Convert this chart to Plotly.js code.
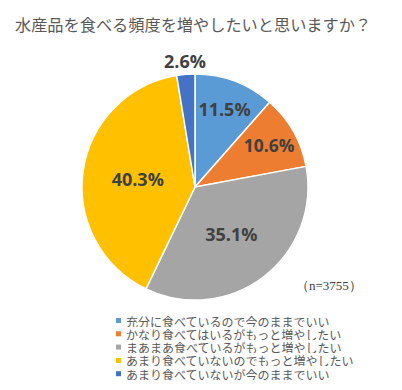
<!DOCTYPE html>
<html><head><meta charset="utf-8">
<script src="https://cdn.plot.ly/plotly-3.0.1.min.js"></script>
<style>html,body{margin:0;padding:0;background:#fff;}#c{width:402px;height:390px;}</style>
</head><body><div id="c"></div>
<script>
const labels = ["充分に食べているので今のままでいい","かなり食べてはいるがもっと増やしたい","まあまあ食べているがもっと増やしたい","あまり食べていないのでもっと増やしたい","あまり食べていないが今のままでいい"];
const values = [11.5, 10.6, 35.1, 40.3, 2.6];
const colors = ["#5B9BD5","#ED7D31","#A5A5A5","#FFC000","#4472C4"];
const titleText = "水産品を食べる頻度を増やしたいと思いますか？";
const noteText = "（n=3755）";

const W=402,H=390;
const cx=195, cy=187, r=113;
const jp = "'Noto Sans CJK JP', 'Noto Sans', sans-serif";
const numFont = {family:"'Open Sans', 'Noto Sans', sans-serif", size:18, color:'#404040', weight:'bold'};
const isSmall = values.map(v=> v<5);

const trace = {
  type:'pie', values:values, labels:labels, sort:false, direction:'clockwise', rotation:0,
  marker:{colors:colors, line:{color:'#ffffff', width:1.5}},
  texttemplate: values.map(v=>v.toFixed(1)+'%'),
  textinfo:'text',
  textposition: isSmall.map(s=> s ? 'none':'inside'),
  insidetextorientation:'horizontal',
  textfont:numFont,
  showlegend:false, hoverinfo:'none',
  domain:{x:[(cx-r)/W,(cx+r)/W], y:[(H-cy-r)/H,(H-cy+r)/H]}
};

const annotations = [];
// outside label(s) for small slices, placed at the slice's mid angle
const total = values.reduce((a,b)=>a+b,0);
let cum = 0;
values.forEach((v,i)=>{
  const mid = (cum + v/2)/total; cum += v;
  if(!isSmall[i]) return;
  const th = 2*Math.PI*mid, R = r + 13;
  annotations.push({xref:'paper',yref:'paper', x:(cx+Math.sin(th)*R)/W, y:1-(cy-Math.cos(th)*R)/H,
    xanchor:'center', yanchor:'middle', showarrow:false, text:v.toFixed(1)+'%', font:numFont});
});
const lgY = i => 320.5 + i*13.3;
labels.forEach((lab,i)=>{
  annotations.push({xref:'paper',yref:'paper', x:124/W, y:1-lgY(i)/H, xanchor:'left', yanchor:'middle',
    height:12, text:lab, showarrow:false, font:{family:jp, size:12, color:'#595959'}});
});
annotations.push({xref:'paper',yref:'paper', x:294/W, y:1-285/H, xanchor:'left', yanchor:'middle',
  text:noteText, showarrow:false, font:{family:"'Liberation Serif', serif", size:13, color:'#404040'}});

const shapes = colors.map((c,i)=>({type:'rect', xref:'paper', yref:'paper',
  x0:116/W, x1:121/W, y0:1-(lgY(i)+2.5)/H, y1:1-(lgY(i)-2.5)/H, fillcolor:c, line:{width:0}}));

const layout = {
  width:W, height:H, margin:{l:0,r:0,t:0,b:0}, paper_bgcolor:'#fff', plot_bgcolor:'#fff',
  title:{text:titleText, x:15/W, xanchor:'left', y:1-25/H, yanchor:'middle', font:{family:jp, size:16.2, color:'#595959'}},
  annotations:annotations, shapes:shapes, showlegend:false
};
Plotly.newPlot('c',[trace],layout,{staticPlot:true});
</script></body></html>
